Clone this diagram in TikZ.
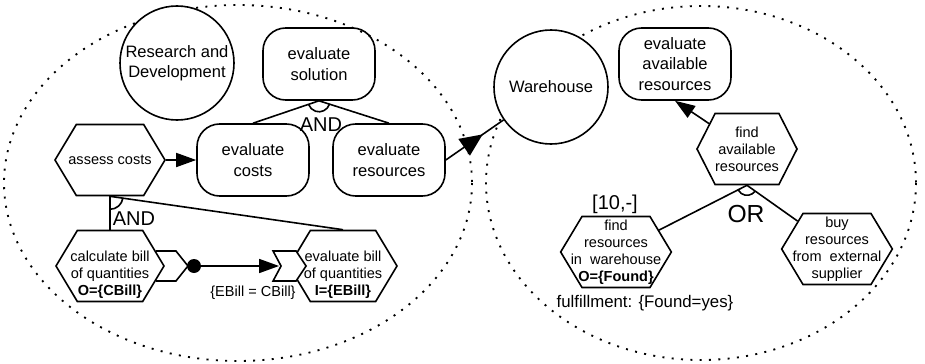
\documentclass[tikz,border=0pt]{standalone}
\usepackage{fontspec}
\setmainfont{Liberation Sans}
\usetikzlibrary{shapes.symbols,arrows.meta,decorations.markings}

\newcommand{\roundfont}{\fontsize{12.4pt}{15.4pt}\selectfont}
\newcommand{\hexfont}{\fontsize{10.9pt}{12.7pt}\selectfont}

\tikzset{
	actorcircle/.style={draw, circle, fill=white, line width=1.2pt, minimum size=85.5pt, inner sep=0pt, align=center, font=\roundfont},
	goalbox/.style={draw, rectangle, rounded corners=17pt, line width=1.2pt, minimum width=84pt, minimum height=54pt, align=center, font=\roundfont},
	taskhex/.style={draw, signal, signal to=east and west, signal pointer angle=118, line width=1.2pt, minimum width=81pt, minimum height=53.25pt, inner xsep=-12pt, inner ysep=0pt, align=center, font=\hexfont},
	boundary/.style={line width=1.4pt, dash pattern=on 1.5pt off 5.5pt},
	link/.style={line width=1.2pt},
	means/.style={link, -{Triangle[length=15pt, width=10.5pt]}},
	deplink/.style={link, decoration={markings, mark=at position 0.64 with {\arrow{Triangle[length=17pt, width=15pt]}}}, postaction={decorate}},
	portdot/.style={circle, fill=black, minimum size=10.5pt, inner sep=0pt},
	decomp/.style={inner sep=0pt, font=\fontsize{15pt}{15pt}\selectfont},
	note/.style={inner sep=0pt, font=\hexfont}
}

\begin{document}
\begin{tikzpicture}[x=0.75pt, y=-0.75pt]
	\useasboundingbox (0,0) rectangle (925,364);

	% actor boundaries
	\draw[boundary] (238,183) ellipse [x radius=234, y radius=178];
	\draw[boundary] (701,183) ellipse [x radius=215, y radius=177];

	% Research and Development
	\node[actorcircle] (rnd) at (177,63) {Research and\\Development};
	\node[goalbox] (evalsol) at (319,64) {evaluate\\solution};
	\node[goalbox] (evalcosts) at (253,160) {evaluate\\costs};
	\node[goalbox] (evalres) at (389,160) {evaluate\\resources};
	\node[taskhex, minimum width=82.5pt] (assess) at (110,160) {assess costs};
	\node[taskhex] (calcbill) at (110,266) {\strut\\calculate bill\\of quantities\\\textbf{O=\{CBill\}}};
	\node[taskhex] (evalbill) at (343,266) {\strut\\evaluate bill\\of quantities\\\textbf{I=\{EBill\}}};

	% Warehouse
	\node[actorcircle] (warehouse) at (551,87) {Warehouse};
	\node[goalbox] (evalavail) at (675,64) {evaluate\\available\\resources};
	\node[taskhex, minimum width=75pt, signal pointer angle=126] (findavail) at (747,149) {find\\available\\resources};
	\node[taskhex, minimum width=83pt] (findwh) at (616,252) {find\\resources\\in~~warehouse\\\textbf{O=\{Found\}}};
	\node[taskhex, minimum width=83pt] (buy) at (837,249) {buy\\resources\\from~~external\\supplier};

	% AND decomposition of evaluate solution
	\draw[link] (evalsol.south) -- (evalcosts.north);
	\draw[link] (evalsol.south) -- (evalres.north);
	\draw[link] ([shift={(19:11)}]evalsol.south) arc[start angle=19, end angle=160, radius=11];
	\node[decomp] (andsol) at (321,125) {AND};

	% AND decomposition of assess costs
	\draw[link] (assess.south) -- (calcbill.north);
	\draw[link] (assess.south) -- (evalbill.north);
	\draw[link] ([shift={(8:13)}]assess.south) arc[start angle=8, end angle=90, radius=13];
	\node[decomp] (andcost) at (134,219) {AND};

	% OR decomposition of find available resources
	\draw[link] (findavail.south) -- (findwh);
	\draw[link] (findavail.south) -- (buy);
	\draw[link] ([shift={(35:10)}]findavail.south) arc[start angle=35, end angle=153, radius=10];
	\node[decomp, font=\fontsize{18.5pt}{18.5pt}\selectfont] (orfind) at (746,214) {OR};

	% means-end links
	\draw[means] (assess) -- (evalcosts);
	\draw[means] (findavail) -- (evalavail.south);

	% dependency
	\draw[deplink] (evalres.east) -- (warehouse);

	% ports and data flow
	\draw[link] ([shift={(-9,-15)}]calcbill.east) -- ++(20,0) -- ++(12,15) -- ++(-12,15) -- ++(-20,0);
	\draw[link, fill=white] ([shift={(-15,-15)}]evalbill.west) -- ++(23,0) -- ++(10,15) -- ++(-10,15) -- ++(-23,0) -- ++(8,-15) -- cycle;
	\node[portdot] (cbilldot) at (194,266) {};
	\coordinate (ebillin) at ([shift={(-9,0)}]evalbill.west);
	\draw[means] (cbilldot) -- (ebillin);
	\node[note] (ebilleq) at (253,293) {\{EBill = CBill\}};

	% annotations
	\node[decomp] (findwhbound) at (615,204) {[10,-]};
	\node[note, font=\fontsize{12.6pt}{12.6pt}\selectfont] (fulfil) at (645,303) {fulfillment: \{Found=yes\}};
\end{tikzpicture}
\end{document}
